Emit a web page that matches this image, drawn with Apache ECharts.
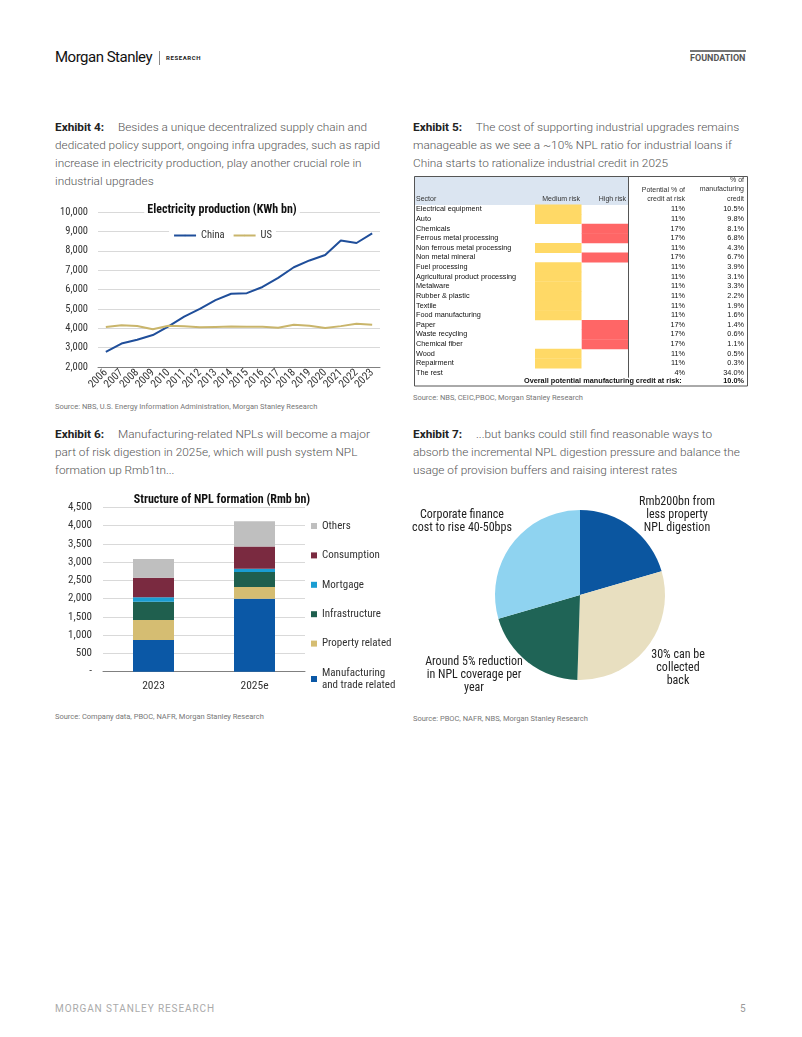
<!DOCTYPE html>
<html><head><meta charset="utf-8">
<script src="https://cdn.jsdelivr.net/npm/echarts@6/dist/echarts.min.js"></script>
<style>
body{margin:0;background:#fff;}
#page{position:relative;width:802px;height:1037px;font-family:Roboto,"Noto Sans",sans-serif;overflow:hidden;}
.abs{position:absolute;white-space:nowrap;}
.ex{font-size:11.8px;line-height:18px;color:#555;font-weight:300;}
.ex b{color:#222;font-weight:700;margin-right:11px;}
.src{font-size:7.5px;color:#777;line-height:10px;font-family:"Liberation Sans Narrow",Roboto,sans-serif;}
</style></head>
<body><div id="page">
<div class="abs" style="left:55px;top:48px;font-size:15px;color:#111;letter-spacing:-0.5px;font-family:'Liberation Sans Narrow',Roboto,sans-serif;">Morgan Stanley</div>
<div class="abs" style="left:159px;top:51px;width:1px;height:14px;background:#888;"></div>
<div class="abs" style="left:166px;top:54px;font-size:6px;font-weight:700;letter-spacing:0.6px;color:#222;">RESEARCH</div>
<div class="abs" style="left:690px;top:50px;width:56px;height:2px;background:#777;"></div>
<div class="abs" style="left:690px;top:53px;font-size:9px;font-weight:700;color:#555;">FOUNDATION</div>

<div class="abs ex" style="left:55px;top:118px;"><b>Exhibit 4:</b> Besides a unique decentralized supply chain and<br>dedicated policy support, ongoing infra upgrades, such as rapid<br>increase in electricity production, play another crucial role in<br>industrial upgrades</div>
<div class="abs ex" style="left:413px;top:118px;"><b>Exhibit 5:</b> The cost of supporting industrial upgrades remains<br>manageable as we see a ~10% NPL ratio for industrial loans if<br>China starts to rationalize industrial credit in 2025</div>
<div class="abs ex" style="left:55px;top:425px;"><b>Exhibit 6:</b> Manufacturing-related NPLs will become a major<br>part of risk digestion in 2025e, which will push system NPL<br>formation up Rmb1tn...</div>
<div class="abs ex" style="left:413px;top:425px;"><b>Exhibit 7:</b> ...but banks could still find reasonable ways to<br>absorb the incremental NPL digestion pressure and balance the<br>usage of provision buffers and raising interest rates</div>

<div id="c1" class="abs" style="left:55px;top:195px;width:335px;height:205px;"></div>
<div id="c2" class="abs" style="left:413px;top:173px;width:337px;height:215px;"></div>
<div id="c3" class="abs" style="left:55px;top:488px;width:350px;height:215px;"></div>
<div id="c4" class="abs" style="left:410px;top:488px;width:345px;height:215px;"></div>

<div class="abs src" style="left:55px;top:402px;">Source: NBS, U.S. Energy Information Administration, Morgan Stanley Research</div>
<div class="abs src" style="left:413px;top:393px;">Source: NBS, CEIC,PBOC, Morgan Stanley Research</div>
<div class="abs src" style="left:55px;top:712px;">Source: Company data, PBOC, NAFR, Morgan Stanley Research</div>
<div class="abs src" style="left:413px;top:714px;">Source: PBOC, NAFR, NBS, Morgan Stanley Research</div>

<div class="abs" style="left:55px;top:1003px;font-size:10px;letter-spacing:0.9px;color:#aaa;font-family:'Liberation Sans Narrow',Roboto,sans-serif;">MORGAN STANLEY RESEARCH</div>
<div class="abs" style="left:740px;top:1003px;font-size:10px;color:#999;">5</div>
</div>
<script>
const COND = '"Liberation Sans Narrow", "Roboto Condensed", Roboto, sans-serif';

// Exhibit 4: electricity production (KWh bn)
const years = ['2006','2007','2008','2009','2010','2011','2012','2013','2014','2015','2016','2017','2018','2019','2020','2021','2022','2023'];
const chinaProd = [2780,3210,3410,3650,4100,4600,5000,5450,5780,5810,6130,6600,7150,7500,7780,8530,8400,8900];
const usProd = [4060,4160,4120,3950,4130,4100,4050,4070,4090,4080,4080,4030,4180,4130,4010,4110,4230,4180];

// Exhibit 5: sector table
const sectors = ['Electrical equipment','Auto','Chemicals','Ferrous metal processing','Non ferrous metal processing','Non metal mineral','Fuel processing','Agricultural product processing','Metalware','Rubber & plastic','Textile','Food manufacturing','Paper','Waste recycling','Chemical fiber','Wood','Repairment','The rest'];
const riskLevel = ['M','M','H','H','M','H','M','M','M','M','M','M','H','H','H','M','M',''];
const creditAtRisk = ['11%','11%','17%','17%','11%','17%','11%','11%','11%','11%','11%','11%','17%','17%','17%','11%','11%','4%'];
const shareOfCredit = ['10.5%','9.8%','8.1%','6.8%','4.3%','6.7%','3.9%','3.1%','3.3%','2.2%','1.9%','1.6%','1.4%','0.6%','1.1%','0.5%','0.3%','34.0%'];
const overallLabel = 'Overall potential manufacturing credit at risk:';
const overallValue = '10.0%';

// Exhibit 6: NPL formation (Rmb bn)
const nplCats = ['2023','2025e'];
const nplManufacturing = [870,2000];
const nplProperty = [545,320];
const nplInfrastructure = [500,410];
const nplMortgage = [120,90];
const nplConsumption = [540,610];
const nplOthers = [510,685];

// Exhibit 7: pie
const pieNames = ['Rmb200bn from\nless property\nNPL digestion','30% can be\ncollected\nback','Around 5% reduction\nin NPL coverage per\nyear','Corporate finance\ncost to rise 40-50bps'];
const pieValues = [20.5,30,20,29.5];

const fmt = v => v.toLocaleString('en-US');

// ---------- Chart 1 ----------
const c1 = echarts.init(document.getElementById('c1'));
c1.setOption({
  animation:false,
  grid:{left:43,right:10,top:17,bottom:33},
  graphic:[{type:'text',x:167,y:15,z:100,style:{text:'Electricity production (KWh bn)',font:'bold 12px '+COND,fill:'#111',align:'center',verticalAlign:'middle',backgroundColor:'#fff',padding:[1,3]}}],
  legend:{top:33,left:'center',data:['China','US'],itemWidth:22,itemHeight:2,itemGap:8,backgroundColor:'#fff',padding:[2,4],
    textStyle:{fontSize:10.5,color:'#333',fontFamily:COND}},
  xAxis:{type:'category',data:years,boundaryGap:true,
    axisLine:{lineStyle:{color:'#808080'}},axisTick:{show:false},
    axisLabel:{rotate:45,interval:0,fontSize:11,color:'#333',margin:4,fontFamily:COND}},
  yAxis:{type:'value',min:2000,max:10000,interval:1000,
    axisLine:{show:false},axisTick:{show:false},
    axisLabel:{fontSize:10.5,color:'#333',margin:10,fontFamily:COND,formatter:fmt},
    splitLine:{lineStyle:{color:'#d9d9d9'}}},
  series:[
    {type:'line',name:'China',data:chinaProd,symbol:'none',lineStyle:{width:2,color:'#1f4e9a'},itemStyle:{color:'#1f4e9a'}},
    {type:'line',name:'US',data:usProd,symbol:'none',lineStyle:{width:2,color:'#c9b56b'},itemStyle:{color:'#c9b56b'}}
  ]
});

// ---------- Chart 2 (table) ----------
const TF = '"Liberation Sans", Arial, sans-serif';
const c2 = echarts.init(document.getElementById('c2'));
const hdr = (t,x,y,align) => ({type:'text',x:x,y:y,style:{text:t,font:'7px '+TF,fill:'#333',align:align,verticalAlign:'middle'}});
c2.setOption({
  animation:false,
  grid:{left:0,right:0,top:31.5,bottom:10.3},
  xAxis:{type:'value',min:0,max:1,show:false},
  yAxis:{type:'category',data:sectors,inverse:true,show:false},
  graphic:[
    {type:'rect',shape:{x:1,y:3,width:214,height:29},style:{fill:'#dbe5f1'}},
    {type:'rect',z:50,shape:{x:1.5,y:3.5,width:333,height:209.5},style:{fill:null,stroke:'#555',lineWidth:1}},
    {type:'line',z:50,shape:{x1:215.5,y1:3.5,x2:215.5,y2:204.7},style:{stroke:'#555',lineWidth:1}},
    hdr('Sector',3,26,'left'),
    hdr('Medium risk',167,26,'right'),
    hdr('High risk',213,26,'right'),
    hdr('Potential % of',272,17,'right'),
    hdr('credit at risk',272,26,'right'),
    hdr('% of',331,7,'right'),
    hdr('manufacturing',331,16,'right'),
    hdr('credit',331,26,'right'),
    {type:'text',x:268.7,y:208.3,style:{text:overallLabel,font:'bold 7.3px '+TF,fill:'#111',align:'right',verticalAlign:'middle'}},
    {type:'text',x:331,y:208.3,style:{text:overallValue,font:'bold 7.3px '+TF,fill:'#111',align:'right',verticalAlign:'middle'}}
  ],
  series:[{
    type:'custom',clip:false,
    data:sectors.map((s,i)=>[0.5,i]),
    encode:{x:0,y:1},
    renderItem:function(params,api){
      const i = api.value(1);
      const c = api.coord([0.5,i]);
      const h = api.size([0,1])[1];
      const x0 = params.coordSys.x;
      const ch = [];
      const r = riskLevel[i];
      if (r) ch.push({type:'rect',shape:{x:x0+(r==='M'?122:168.7),y:c[1]-h/2,width:46.5,height:h+0.3},style:{fill:r==='M'?'#ffd966':'#ff6666'}});
      const f = '7.3px '+TF;
      ch.push({type:'text',style:{text:sectors[i],x:x0+3,y:c[1],font:f,fill:'#111',align:'left',verticalAlign:'middle'}});
      ch.push({type:'text',style:{text:creditAtRisk[i],x:x0+272,y:c[1],font:f,fill:'#111',align:'right',verticalAlign:'middle'}});
      ch.push({type:'text',style:{text:shareOfCredit[i],x:x0+331,y:c[1],font:f,fill:'#111',align:'right',verticalAlign:'middle'}});
      return {type:'group',children:ch};
    }
  }]
});

// ---------- Chart 3 ----------
const c3 = echarts.init(document.getElementById('c3'));
const barS = (name,data,color) => ({type:'bar',name:name,data:data,stack:'npl',barWidth:41,itemStyle:{color:color}});
c3.setOption({
  animation:false,
  grid:{left:48,right:100,top:19.3,bottom:31.3},
  graphic:[{type:'text',x:167,y:12,style:{text:'Structure of NPL formation (Rmb bn)',font:'bold 12px '+COND,fill:'#111',align:'center',verticalAlign:'middle'}}],
  legend:{orient:'vertical',left:251,top:27,itemWidth:6,itemHeight:6,itemGap:17.4,icon:'rect',
    data:['Others','Consumption','Mortgage','Infrastructure','Property related','Manufacturing and trade related'],
    formatter:n=>n==='Manufacturing and trade related'?'Manufacturing\nand trade related':n,
    textStyle:{fontSize:11,lineHeight:12,color:'#333',fontFamily:COND}},
  xAxis:{type:'category',data:nplCats,axisLine:{lineStyle:{color:'#808080'}},axisTick:{show:false},
    axisLabel:{fontSize:11.5,color:'#333',margin:8,fontFamily:COND}},
  yAxis:{type:'value',min:0,max:4500,interval:500,axisLine:{show:false},axisTick:{show:false},
    axisLabel:{fontSize:11,color:'#333',margin:11,fontFamily:COND,formatter:v=>v===0?'-':fmt(v)},
    splitLine:{lineStyle:{color:'#d9d9d9'}}},
  series:[
    barS('Manufacturing and trade related',nplManufacturing,'#0b58a6'),
    barS('Property related',nplProperty,'#d5bd72'),
    barS('Infrastructure',nplInfrastructure,'#1f5f4e'),
    barS('Mortgage',nplMortgage,'#1a9dd2'),
    barS('Consumption',nplConsumption,'#7a2a40'),
    barS('Others',nplOthers,'#bfbfbf')
  ]
});

// ---------- Chart 4 ----------
const c4 = echarts.init(document.getElementById('c4'));
const labelPos = [[267,27],[268,180],[64,187],[52,33.5]];
c4.setOption({
  animation:false,
  series:[{
    type:'pie',center:[170,107],radius:85,startAngle:90,clockwise:true,
    data:pieNames.map((n,i)=>({name:n,value:pieValues[i]})),
    color:['#0b56a0','#e8dfc0','#1f6456','#8fd3f0'],
    itemStyle:{borderWidth:0},
    label:{show:true,position:'inside',overflow:'none',fontSize:12,lineHeight:13,color:'#222',fontFamily:COND,align:'center'},
    labelLine:{show:false},
    labelLayout:p=>({x:labelPos[p.dataIndex][0],y:labelPos[p.dataIndex][1],align:'center',verticalAlign:'middle'})
  }]
});
</script>
</body></html>
